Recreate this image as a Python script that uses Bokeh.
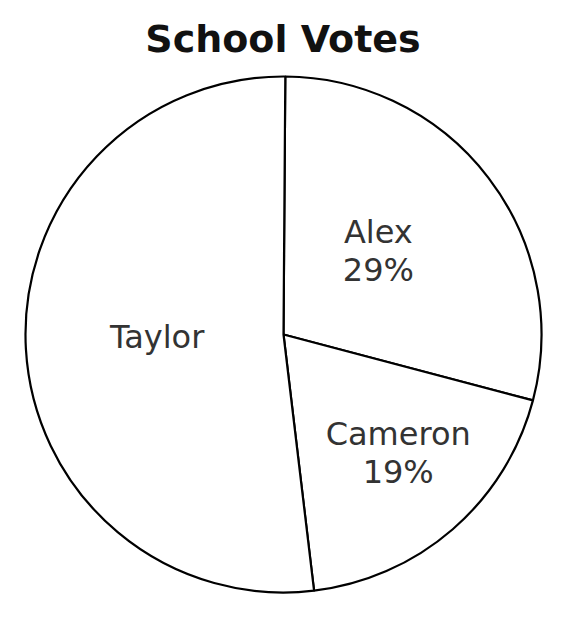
import math
from bokeh.plotting import figure
from bokeh.models import Range1d, ColumnDataSource
from bokeh.core.properties import value
from bokeh.embed import file_html
from bokeh.resources import INLINE

# ---- data ----
names = ["Alex", "Cameron", "Taylor"]
shares = [29, 19, 52]
show_pct = [True, True, False]
title_text = "School Votes"

# ---- layout (screen-pixel coordinates; y measured upward) ----
W, H = 562, 620
cx, cy, R = 283, 636 - 334, 258
start_deg = 89.6
label_r = [0.49, 0.64, 0.49]
label_dang = [4.0, 3.0, -2.0]

p = figure(width=W, height=H, output_backend="svg", toolbar_location=None,
           x_range=Range1d(0, W), y_range=Range1d(636 - H, 636),
           min_border=0, outline_line_color=None)
p.axis.visible = False
p.grid.visible = False
p.background_fill_color = "white"

total = sum(shares)
starts, ends, lx, ly, texts = [], [], [], [], []
a = start_deg
for i, (n, s) in enumerate(zip(names, shares)):
    sweep = 360.0 * s / total
    starts.append(math.radians(a))
    ends.append(math.radians(a - sweep))
    mid = math.radians(a - sweep / 2 + label_dang[i])
    lx.append(cx + label_r[i] * R * math.cos(mid))
    ly.append(cy + label_r[i] * R * math.sin(mid))
    texts.append(f"{n}\n{s}%" if show_pct[i] else n)
    a -= sweep

src = ColumnDataSource(dict(start=starts, end=ends, name=names, share=shares))
p.wedge(x=cx, y=cy, radius=R, start_angle="start", end_angle="end",
        direction="clock", source=src, fill_color="white",
        line_color="black", line_width=2.2)

lsrc = ColumnDataSource(dict(x=lx, y=ly, t=texts))
p.text(x="x", y="y", text="t", source=lsrc, text_align="center",
       text_baseline="middle", text_font=value("DejaVu Sans"),
       text_font_size="32px", text_color="#333333", text_line_height=1.0)

p.text(x=[282.5], y=[636 - 38], text=[title_text], text_align="center",
       text_baseline="middle", text_font=value("DejaVu Sans"),
       text_font_style="bold", text_font_size="38px", text_color="#111111")

open("out.html", "w").write(file_html(p, INLINE))
